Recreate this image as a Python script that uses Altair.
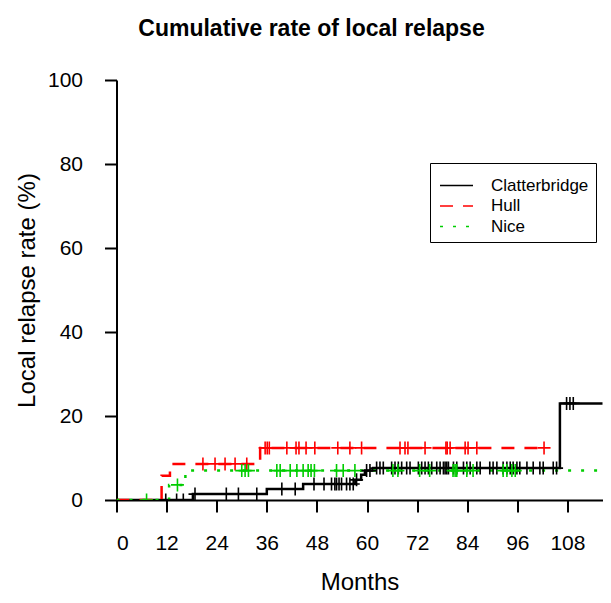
import altair as alt
import pandas as pd

groups = ["Clatterbridge", "Hull", "Nice"]
colors = ["#000000", "#FF0000", "#00CD00"]
dashes = [[1, 0], [13, 10], [3, 10]]

# step curves: time (months) and cumulative local relapse (%)
clat_t = [0, 18.3, 36.0, 44.7, 57.2, 58.6, 59.5, 61.5, 106.2, 120]
clat_v = [0, 1.4, 2.6, 3.8, 4.8, 6.0, 7.0, 7.6, 23.0, 23.0]
hull_t = [0, 10.8, 12.8, 34.4, 102.4]
hull_v = [0, 5.8, 8.6, 12.4, 12.4]
nice_t = [0, 12.6, 16.5, 120]
nice_v = [0, 3.6, 7.0, 7.0]

# censoring times (months)
clat_c = [11.8, 14.4, 16.0, 18.8, 26.3, 29.2, 33.6, 39.6, 42.8, 47.3, 49.7, 51.5,
          52.3, 52.7, 53.3, 53.9, 55.1, 55.9, 56.7, 57.5, 59.9, 60.7, 62.3, 63.1,
          63.9, 65.9, 66.7, 67.5, 68.3, 69.5, 70.3, 72.3, 73.1, 73.9, 74.7, 75.5,
          76.7, 77.5, 78.3, 78.7, 79.1, 79.5, 80.7, 81.5, 83.1, 83.9, 84.7, 86.3,
          87.1, 89.4, 90.2, 91.1, 92.6, 93.5, 94.3, 95.0, 95.9, 96.6, 98.3, 99.8,
          101.4, 102.2, 104.6, 105.4, 107.8, 108.6, 109.4]
hull_c = [20.7, 23.6, 26.0, 28.4, 31.2, 35.6, 36.1, 36.6, 40.8, 43.0, 43.7, 45.4,
          47.5, 53.0, 55.9, 58.7, 67.9, 69.1, 69.8, 73.9, 78.9, 79.2, 79.9, 83.5,
          84.2, 86.3, 102.4]
nice_c = [7.2, 14.6, 30.0, 30.8, 31.6, 38.4, 39.2, 41.6, 43.2, 44.7, 45.9, 46.6,
          47.4, 52.7, 54.3, 57.1, 66.2, 67.4, 72.6, 75.0, 80.6, 81.1, 81.5, 83.9,
          85.4, 92.6, 93.5, 94.7, 95.5]

x_ticks = [0, 12, 24, 36, 48, 60, 72, 84, 96, 108]
y_ticks = [0, 20, 40, 60, 80, 100]

steps = {"Clatterbridge": (clat_t, clat_v), "Hull": (hull_t, hull_v), "Nice": (nice_t, nice_v)}
cens = {"Clatterbridge": clat_c, "Hull": hull_c, "Nice": nice_c}

rows = []
for g, (ts, vs) in steps.items():
    for t, v in zip(ts, vs):
        rows.append({"group": g, "month": t, "rate": v})
curve_df = pd.DataFrame(rows)

crow = []
for g, cs in cens.items():
    ts, vs = steps[g]
    for c in cs:
        lvl = 0
        for t, v in zip(ts, vs):
            if t <= c:
                lvl = v
        crow.append({"group": g, "month": c, "rate": lvl})
cens_df = pd.DataFrame(crow)

xscale = alt.Scale(domain=[0, 116.4], nice=False, zero=False)
yscale = alt.Scale(domain=[0, 100], nice=False)
cscale = alt.Scale(domain=groups, range=colors)
dscale = alt.Scale(domain=groups, range=dashes)

xaxis = alt.Axis(values=x_ticks, title="Months", labelPadding=20, titlePadding=17)
yaxis = alt.Axis(values=y_ticks, title="Local relapse rate (%)", labelPadding=22, titlePadding=8)

legend = alt.Legend(orient="none", legendX=313.5, legendY=83,
                    symbolType="M-1,0H5", symbolSize=121,
                    symbolStrokeWidth=1.5, labelFontSize=17,
                    labelFont="Liberation Sans", labelColor="black",
                    labelOffset=37, padding=7, rowPadding=2.5,
                    title=" ", titleFontSize=7, titlePadding=0,
                    strokeColor="black", fillColor="white",
                    cornerRadius=0)

lines = alt.Chart(curve_df).mark_line(interpolate="step-after", strokeWidth=2.5, clip=True).encode(
    x=alt.X("month:Q", scale=xscale, axis=xaxis),
    y=alt.Y("rate:Q", scale=yscale, axis=yaxis),
    color=alt.Color("group:N", scale=cscale, legend=legend),
    strokeDash=alt.StrokeDash("group:N", scale=dscale, legend=legend),
    detail="group:N",
)

marks = alt.Chart(cens_df).mark_point(shape="M-1,0H1M0,-1V1", size=169, filled=False,
                                      strokeWidth=1.6, opacity=1, clip=True).encode(
    x=alt.X("month:Q", scale=xscale),
    y=alt.Y("rate:Q", scale=yscale),
    color=alt.Color("group:N", scale=cscale, legend=None),
)

chart = alt.layer(lines, marks).properties(
    width=486, height=420,
    title=alt.TitleParams("Cumulative rate of local relapse", font="Liberation Sans",
                          fontSize=23, fontWeight="bold", color="black", dx=-48,
                          offset=28, anchor="middle"),
    autosize=alt.AutoSizeParams(type="none"),
    padding={"left": 108.5, "top": 72, "right": 0, "bottom": 94},
).configure_view(stroke=None).configure_axis(
    domainColor="black", domainWidth=2, tickColor="black", tickWidth=2, tickSize=12,
    labelFont="Liberation Sans", labelFontSize=21, labelColor="black",
    titleFont="Liberation Sans", titleFontSize=24, titleFontWeight="normal",
    titleColor="black", grid=False,
)

chart.save("out.html", embed_options={"renderer": "svg", "actions": False})
